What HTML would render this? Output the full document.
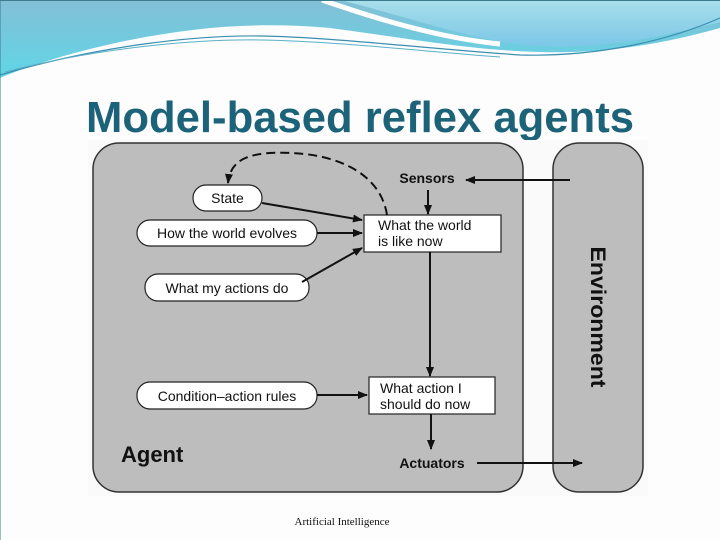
<!DOCTYPE html>
<html><head><meta charset="utf-8"><style>
html,body{margin:0;padding:0;background:#fff;}
svg{display:block;}
</style></head><body>
<svg width="720" height="540" viewBox="0 0 720 540" xmlns="http://www.w3.org/2000/svg">
<defs>
<linearGradient id="bg" x1="0" y1="0" x2="0" y2="1">
<stop offset="0" stop-color="#84bfd6"/><stop offset="1" stop-color="#5fd6e6"/>
</linearGradient>
<linearGradient id="bg2" x1="0" y1="0" x2="0" y2="1">
<stop offset="0" stop-color="#a8dfea"/><stop offset="1" stop-color="#7cc7e8"/>
</linearGradient>
<marker id="ah" markerWidth="10" markerHeight="8" refX="9" refY="4" orient="auto" markerUnits="userSpaceOnUse">
<path d="M0,0 L10,4 L0,8 z" fill="#111"/></marker>
</defs>
<rect width="720" height="540" fill="#fdfdfd"/>
<!-- header waves -->
<path d="M0,0 L720,0 L720,28 C660,45 600,54 540,52 C470,50 420,40 330,28 C260,22 200,26 130,40 C80,50 30,65 0,78 Z" fill="url(#bg)"/>
<path d="M320,0 L720,0 L720,22 C650,40 600,48 545,46 C480,44 420,20 340,0 Z" fill="url(#bg2)"/>
<path d="M322,0 C380,20 440,38 500,44" stroke="#fff" stroke-width="5" fill="none"/>
<path d="M0,75 C100,45 200,35 260,36 C330,37 420,48 520,55 C600,57 670,40 720,18" stroke="#3a8fb0" stroke-width="1.2" fill="none"/>
<path d="M5,72 C100,47 200,39 260,40 C330,41 420,51 500,57" stroke="#5ab0c8" stroke-width="1" fill="none"/>
<path d="M0,0 L720,0" stroke="#3c7a90" stroke-width="2"/>
<path d="M0,0 L0,540" stroke="#3c7a90" stroke-width="1"/>
<!-- title -->
<text x="360" y="132" text-anchor="middle" font-family="Liberation Sans, sans-serif" font-weight="bold" font-size="44" fill="#1c6379" textLength="548" lengthAdjust="spacingAndGlyphs">Model-based reflex agents</text>
<!-- diagram background -->
<rect x="88" y="140" width="560" height="356" fill="#fafafa"/>
<rect x="93" y="143" width="430" height="349" rx="26" fill="#bdbdbd" stroke="#333" stroke-width="1.5"/>
<rect x="553" y="143" width="90" height="349" rx="26" fill="#bdbdbd" stroke="#333" stroke-width="1.5"/>
<text transform="translate(591,317) rotate(90)" text-anchor="middle" font-family="Liberation Sans, sans-serif" font-weight="bold" font-size="21" fill="#111" textLength="141" lengthAdjust="spacingAndGlyphs">Environment</text>
<!-- ovals -->
<g font-family="Liberation Sans, sans-serif" font-size="14" fill="#111">
<rect x="193" y="185" width="69" height="26" rx="13" fill="#fff" stroke="#222" stroke-width="1.2"/>
<text x="227.5" y="203" text-anchor="middle">State</text>
<rect x="137" y="220" width="180" height="26" rx="13" fill="#fff" stroke="#222" stroke-width="1.2"/>
<text x="227" y="238" text-anchor="middle">How the world evolves</text>
<rect x="145" y="274" width="164" height="27" rx="13" fill="#fff" stroke="#222" stroke-width="1.2"/>
<text x="227" y="293" text-anchor="middle">What my actions do</text>
<rect x="137" y="382" width="180" height="27" rx="13" fill="#fff" stroke="#222" stroke-width="1.2"/>
<text x="227" y="401" text-anchor="middle">Condition–action rules</text>
<rect x="364" y="215" width="137" height="37" fill="#fff" stroke="#222" stroke-width="1.2"/>
<text x="378" y="230">What the world</text>
<text x="378" y="246">is like now</text>
<rect x="369" y="377" width="126" height="37" fill="#fff" stroke="#222" stroke-width="1.2"/>
<text x="380" y="393">What action I</text>
<text x="380" y="409">should do now</text>
<text x="427" y="183" text-anchor="middle" font-weight="bold" font-size="14">Sensors</text>
<text x="432" y="468" text-anchor="middle" font-weight="bold" font-size="14">Actuators</text>
<text x="121" y="462" font-weight="bold" font-size="22">Agent</text>
</g>
<!-- arrows -->
<g stroke="#111" stroke-width="2" fill="none">
<line x1="570" y1="180" x2="466" y2="180" marker-end="url(#ah)"/>
<line x1="428" y1="190" x2="428" y2="214" marker-end="url(#ah)"/>
<line x1="262" y1="203" x2="362" y2="220" marker-end="url(#ah)"/>
<line x1="317" y1="233" x2="362" y2="233" marker-end="url(#ah)"/>
<line x1="302" y1="282" x2="362" y2="248" marker-end="url(#ah)"/>
<line x1="430" y1="252" x2="430" y2="376" marker-end="url(#ah)"/>
<line x1="317" y1="395" x2="367" y2="395" marker-end="url(#ah)"/>
<line x1="431" y1="414" x2="431" y2="449" marker-end="url(#ah)"/>
<line x1="477" y1="463" x2="582" y2="463" marker-end="url(#ah)"/>
<path d="M387,215 C380,170 330,150 270,153 C240,155 230,165 228,183" stroke-dasharray="9,5" marker-end="url(#ah)"/>
</g>
<text x="342" y="525" text-anchor="middle" font-family="Liberation Serif, serif" font-size="11" fill="#111">Artificial Intelligence</text>
</svg>
</body></html>
